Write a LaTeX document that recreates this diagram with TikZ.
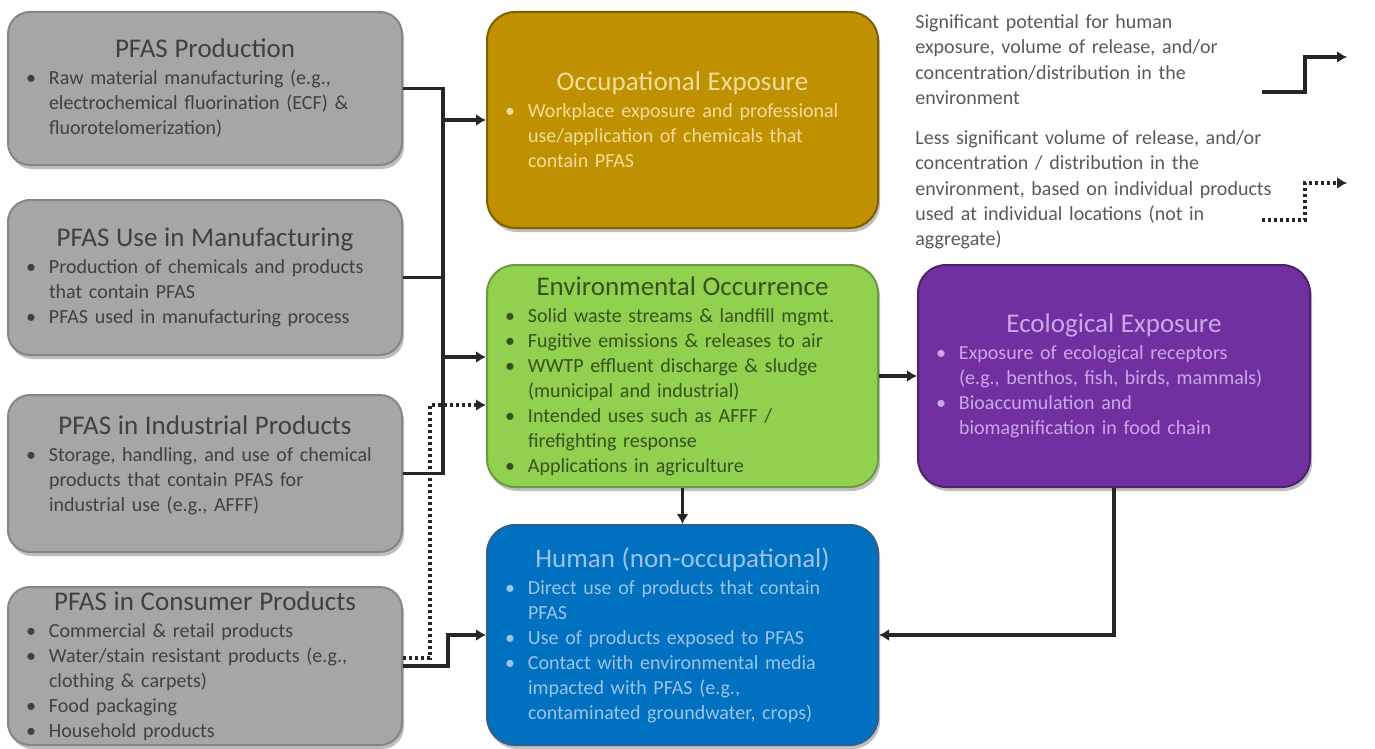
\documentclass[tikz,border=0pt]{standalone}
\usepackage{fontspec}
\setmainfont{Carlito}
\usepackage{xcolor}
\usepackage{tikz}
\usetikzlibrary{arrows.meta,shadows}
\definecolor{srcfill}{HTML}{A6A6A6}
\definecolor{srcedge}{HTML}{858585}
\definecolor{srctext}{HTML}{404040}
\definecolor{occfill}{HTML}{BF9000}
\definecolor{occedge}{HTML}{7F6000}
\definecolor{occtext}{HTML}{F2DC9B}
\definecolor{envfill}{HTML}{92D050}
\definecolor{envedge}{HTML}{6A9A3C}
\definecolor{envtext}{HTML}{36521E}
\definecolor{humfill}{HTML}{0070C0}
\definecolor{humedge}{HTML}{2F5F8F}
\definecolor{humtext}{HTML}{9DC3E6}
\definecolor{ecofill}{HTML}{7030A0}
\definecolor{ecoedge}{HTML}{4F2270}
\definecolor{ecotext}{HTML}{CDA6EA}
\definecolor{legtext}{HTML}{595959}
\newcommand{\boxtitle}[1]{{\centering\fontsize{13.5}{17}\selectfont #1\par}\vspace{1pt}}
\newcommand{\bitem}[1]{\par\hangindent=11.5pt\hangafter=1\noindent\hbox to 11.5pt{\textbullet\hfil}#1\par}
\tikzset{
    box/.style={draw, line width=1pt, rounded corners=11pt, inner xsep=9pt, inner ysep=2pt, align=left,
        font=\fontsize{10}{12.5}\selectfont,
        drop shadow={shadow xshift=1pt, shadow yshift=-2pt, opacity=0.25, fill=black}},
    source/.style={box, fill=srcfill, draw=srcedge, text=srctext, text width=179pt},
    occbox/.style={box, fill=occfill, draw=occedge, text=occtext, text width=177.5pt, rounded corners=14pt},
    envbox/.style={box, fill=envfill, draw=envedge, text=envtext, text width=177.5pt, rounded corners=14pt},
    humbox/.style={box, fill=humfill, draw=humedge, text=humtext, text width=177.5pt, rounded corners=14pt},
    ecobox/.style={box, fill=ecofill, draw=ecoedge, text=ecotext, text width=178pt, rounded corners=14pt},
    legend/.style={anchor=north west, text width=200pt, align=left, text=legtext, inner sep=0pt,
        font=\fontsize{10}{12.7}\selectfont},
    flow/.style={line width=1.6pt, black!85},
    flowarrow/.style={flow, -{Latex[length=5pt,width=6pt]}},
    dotflow/.style={flow, dash pattern=on 1.5pt off 1.5pt},
    dotarrow/.style={dotflow, -{Latex[length=5pt,width=6pt]}}
}
\begin{document}
\begin{tikzpicture}[x=0.5pt, y=-0.5pt]
    \useasboundingbox (0,0) rectangle (1375,749);

    % Sources
    \node[source, minimum height=76.5pt] (prod) at (205,88.5) {
        \boxtitle{PFAS Production}
        \bitem{Raw material manufacturing (e.g.,\newline electrochemical fluorination (ECF) \&\newline fluorotelomerization)}
    };
    \node[source, minimum height=77.5pt] (manuf) at (205,277.5) {
        \boxtitle{PFAS Use in Manufacturing}
        \bitem{Production of chemicals and products\newline that contain PFAS}
        \bitem{PFAS used in manufacturing process}
    };
    \node[source, minimum height=78.5pt] (indus) at (205,473.5) {
        \boxtitle{PFAS in Industrial Products}
        \bitem{Storage, handling, and use of chemical\newline products that contain PFAS for\newline industrial use (e.g., AFFF)}
        \vspace{8pt}
    };
    \node[source, minimum height=79pt, inner ysep=0pt] (cons) at (205,666) {
        \boxtitle{PFAS in Consumer Products}
        \bitem{Commercial \& retail products}
        \bitem{Water/stain resistant products (e.g.,\newline clothing \& carpets)}
        \bitem{Food packaging}
        \bitem{Household products}
    };

    % Receptors
    \node[occbox, minimum height=108pt] (occ) at (682.5,120) {
        \boxtitle{Occupational Exposure}
        \bitem{Workplace exposure and professional\newline use/application of chemicals that\newline contain PFAS}
    };
    \node[envbox, minimum height=111pt] (env) at (682.5,376) {
        \boxtitle{Environmental Occurrence}
        \bitem{Solid waste streams \& landfill mgmt.}
        \bitem{Fugitive emissions \& releases to air}
        \bitem{WWTP effluent discharge \& sludge\newline (municipal and industrial)}
        \bitem{Intended uses such as AFFF /\newline firefighting response}
        \bitem{Applications in agriculture}
    };
    \node[humbox, minimum height=110pt] (human) at (682.5,635) {
        \boxtitle{Human (non-occupational)}
        \bitem{Direct use of products that contain\newline PFAS}
        \bitem{Use of products exposed to PFAS}
        \bitem{Contact with environmental media\newline impacted with PFAS (e.g.,\newline contaminated groundwater, crops)}
    };
    \node[ecobox, minimum height=111pt] (eco) at (1114,376) {
        \boxtitle{Ecological Exposure}
        \bitem{Exposure of ecological receptors\newline (e.g., benthos, fish, birds, mammals)}
        \bitem{Bioaccumulation and\newline biomagnification in food chain}
    };

    % Legend
    \node[legend] (legsolid) at (915,14) {Significant potential for human\\exposure, volume of release, and/or\\concentration/distribution in the\\environment};
    \node[legend] (legdotted) at (915,130) {Less significant volume of release, and/or\\concentration / distribution in the\\environment, based on individual products\\used at individual locations (not in\\aggregate)};
    \coordinate (ls1) at (1262,92);
    \coordinate (le1) at (1347,57);
    \coordinate (ls2) at (1262,220);
    \coordinate (le2) at (1347,183);
    \draw[flowarrow] (ls1) -- ++(43,0) |- (le1);
    \draw[dotarrow] (ls2) -- ++(43,0) |- (le2);

    % Trunk from sources
    \coordinate (t1) at (443,88.5);
    \coordinate (t2) at (443,473.5);
    \draw[flow] (prod.east) -- (t1) -- (t2) -- (indus.east);
    \draw[flow] (manuf.east) -- (manuf.east -| t1);
    \draw[flowarrow] (occ.west -| t1) -- (occ.west);
    \draw[flowarrow] ([yshift=9.5pt]env.west -| t1) -- ([yshift=9.5pt]env.west);

    % Consumer products
    \draw[flowarrow] (cons.east) -- ++(45,0) |- (human.west);
    \coordinate (d1) at (430,405);
    \draw[dotarrow] ([yshift=4pt]cons.east) -| (d1) -- (d1 -| env.west);

    % Between receptors
    \draw[flowarrow] (env.east) -- (eco.west);
    \draw[flowarrow] (env.south) -- (human.north);
    \draw[flowarrow] (eco.south) |- (human.east);
\end{tikzpicture}
\end{document}
